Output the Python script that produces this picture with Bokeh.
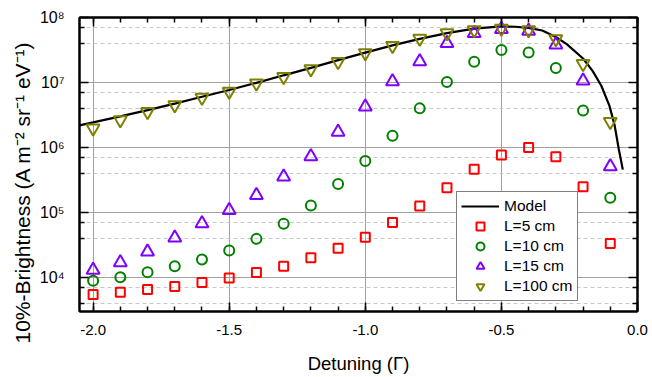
from bokeh.plotting import figure
from bokeh.models import (FixedTicker, CustomJSTickFormatter, LinearAxis, LogAxis,
                          Legend, LegendItem, Range1d, Title)
from bokeh.embed import file_html
from bokeh.resources import INLINE

# ---------------- data ----------------
detuning = [-2.0, -1.9, -1.8, -1.7, -1.6, -1.5, -1.4, -1.3, -1.2, -1.1,
            -1.0, -0.9, -0.8, -0.7, -0.6, -0.5, -0.4, -0.3, -0.2, -0.1]

L5 = [5.5e3, 5.95e3, 6.55e3, 7.3e3, 8.4e3, 9.8e3, 1.19e4, 1.49e4, 2.01e4, 2.82e4,
      4.17e4, 7.0e4, 1.26e5, 2.41e5, 4.62e5, 7.7e5, 9.96e5, 7.2e5, 2.5e5, 3.33e4]
L10 = [8.9e3, 1.01e4, 1.21e4, 1.49e4, 1.89e4, 2.6e4, 3.93e4, 6.7e4, 1.28e5, 2.75e5,
       6.2e5, 1.52e6, 4.0e6, 1.02e7, 2.09e7, 3.15e7, 2.9e7, 1.67e7, 3.7e6, 1.68e5]
L15 = [1.31e4, 1.7e4, 2.48e4, 4.1e4, 6.8e4, 1.08e5, 1.84e5, 3.56e5, 7.3e5, 1.73e6,
       4.25e6, 1.04e7, 2.11e7, 4.0e7, 5.7e7, 6.6e7, 6.2e7, 3.8e7, 1.06e7, 5.1e5]
L100 = [1.97e6, 2.65e6, 3.56e6, 4.5e6, 5.9e6, 7.3e6, 9.7e6, 1.23e7, 1.61e7, 2.09e7,
        2.84e7, 3.67e7, 4.76e7, 5.76e7, 6.4e7, 6.8e7, 6.4e7, 4.66e7, 1.95e7, 2.5e6]

model_x = [-2.05, -2.0, -1.9, -1.8, -1.7, -1.6, -1.5, -1.4, -1.3, -1.2, -1.1,
           -1.0, -0.9, -0.8, -0.7, -0.6, -0.5, -0.45, -0.4, -0.35, -0.3, -0.26,
           -0.2, -0.165, -0.133, -0.103, -0.084, -0.069, -0.054]
model_y = [2.19e6, 2.43e6, 3.02e6, 3.76e6, 4.73e6, 6.03e6, 7.67e6, 9.89e6, 1.29e7,
           1.68e7, 2.21e7, 2.88e7, 3.72e7, 4.68e7, 5.75e7, 6.76e7, 7.28e7, 7.21e7,
           6.92e7, 6.31e7, 5.01e7, 3.89e7, 2.34e7, 1.51e7, 8.91e6, 4.37e6, 2.19e6,
           9.55e5, 4.57e5]

x_major = [-2.0, -1.5, -1.0, -0.5, 0.0]
x_minor = [-2.0, -1.9, -1.8, -1.7, -1.6, -1.5, -1.4, -1.3, -1.2, -1.1, -1.0,
           -0.9, -0.8, -0.7, -0.6, -0.5, -0.4, -0.3, -0.2, -0.1, 0.0]
y_major = [1e4, 1e5, 1e6, 1e7, 1e8]
y_minor = [4e3, 7e3, 4e4, 7e4, 4e5, 7e5, 4e6, 7e6, 4e7, 7e7]

x_title = "Detuning (\u0393)"
y_title = "10%-Brightness (A m\u207b\u00b2 sr\u207b\u00b9 eV\u207b\u00b9)"

FONT = "Liberation Sans"

p = figure(width=652, height=377, y_axis_type="log",
           x_range=Range1d(-2.05, 0.0), y_range=Range1d(3000, 1e8),
           output_backend="svg", toolbar_location=None,
           min_border_left=79, min_border_right=15, min_border_top=17, min_border_bottom=66)
p.background_fill_color = "white"
p.outline_line_color = "black"
p.outline_line_width = 2

xt = FixedTicker(ticks=x_major, minor_ticks=x_minor)
yt = FixedTicker(ticks=y_major, minor_ticks=y_minor)
xfmt = CustomJSTickFormatter(code="return tick.toFixed(1);")
yfmt = CustomJSTickFormatter(code="""
const s = {3:'\u00b3', 4:'\u2074', 5:'\u2075', 6:'\u2076', 7:'\u2077', 8:'\u2078'};
const e = Math.round(Math.log10(tick));
return '10' + s[e];
""")
blank = CustomJSTickFormatter(code="return '';")

def style_axis(ax):
    ax.axis_line_width = 2
    ax.axis_line_color = "black"
    ax.major_tick_in = 9
    ax.major_tick_out = 0
    ax.minor_tick_in = 5
    ax.minor_tick_out = 0
    ax.major_tick_line_width = 1.5
    ax.minor_tick_line_width = 1.5
    ax.major_tick_line_color = "black"
    ax.minor_tick_line_color = "black"
    ax.major_label_text_font = FONT
    ax.major_label_text_color = "black"
    ax.axis_label_text_font = FONT
    ax.axis_label_text_font_style = "normal"
    ax.axis_label_text_color = "black"

xa = p.xaxis[0]
xa.ticker = xt
xa.formatter = xfmt
xa.axis_label = x_title
style_axis(xa)
xa.major_label_text_font_size = "15px"
xa.axis_label_text_font_size = "18.5px"
xa.major_label_standoff = 13
xa.axis_label_standoff = 15

ya = p.yaxis[0]
ya.ticker = yt
ya.formatter = yfmt
style_axis(ya)
ya.major_label_text_font_size = "16px"
ya.major_label_standoff = 15

top = LinearAxis(ticker=xt, formatter=blank)
style_axis(top)
top.major_label_text_font_size = "0px"
p.add_layout(top, "above")
right = LogAxis(ticker=yt, formatter=blank)
style_axis(right)
right.major_label_text_font_size = "0px"
p.add_layout(right, "right")

# y-axis title as a side title, starting a little below the frame bottom
ytitle = Title(text=y_title, align="left", offset=-32, standoff=6,
               text_font=FONT, text_font_size="21px", text_font_style="normal",
               text_color="black")
p.add_layout(ytitle, "left")

p.xgrid.ticker = xt
p.xgrid.grid_line_color = "#a0a0a0"
p.xgrid.grid_line_width = 1
p.ygrid.ticker = yt
p.ygrid.grid_line_color = "#a0a0a0"
p.ygrid.grid_line_width = 1
p.ygrid.minor_grid_line_color = "#c8c8c8"
p.ygrid.minor_grid_line_dash = "4 3"
p.ygrid.minor_grid_line_width = 1

r_model = p.line(model_x, model_y, line_color="black", line_width=2.2)
r5 = p.scatter(detuning, L5, marker="square", size=9, line_color="#ff0000",
               fill_color=None, line_width=2)
r10 = p.scatter(detuning, L10, marker="circle", size=10, line_color="#008000",
                fill_color=None, line_width=2)
r15 = p.scatter(detuning, L15, marker="triangle", size=13, line_color="#8000ff",
                fill_color=None, line_width=2)
r100 = p.scatter(detuning, L100, marker="inverted_triangle", size=13, line_color="#808000",
                 fill_color=None, line_width=2)

legend = Legend(items=[
    LegendItem(label="Model", renderers=[r_model]),
    LegendItem(label="L=5 cm", renderers=[r5]),
    LegendItem(label="L=10 cm", renderers=[r10]),
    LegendItem(label="L=15 cm", renderers=[r15]),
    LegendItem(label="L=100 cm", renderers=[r100]),
], location=(377, 10))
legend.label_text_font = FONT
legend.label_text_font_size = "15.5px"
legend.label_text_color = "black"
legend.border_line_color = "black"
legend.border_line_width = 1
legend.background_fill_color = "white"
legend.background_fill_alpha = 1
legend.glyph_width = 38
legend.glyph_height = 20
legend.label_height = 20
legend.label_standoff = 5
legend.spacing = 0
legend.padding = 4
legend.margin = 0
p.add_layout(legend)

open("out.html", "w").write(file_html(p, INLINE))
